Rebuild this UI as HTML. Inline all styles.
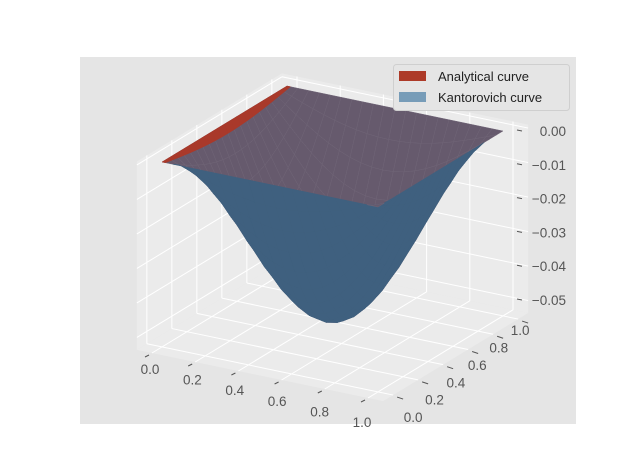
<!DOCTYPE html>
<html><head><meta charset="utf-8"><style>
html,body{margin:0;padding:0;background:#fff;}
svg{display:block;font-family:"Liberation Sans","DejaVu Sans",sans-serif;}
</style></head><body>
<svg id="chart" width="640" height="476" viewBox="0 0 640 476">
  <rect x="80" y="57" width="496" height="367" fill="#e5e5e5"/>
  <g id="panes"></g>
  <g id="surf"></g>
  <g id="ticks"></g>
  <g>
    <rect x="393.5" y="64.5" width="176" height="46" rx="3" fill="#e5e5e5" stroke="#cfcfcf"/>
    <rect x="399" y="71" width="27" height="10" fill="#ad3a28"/>
    <text x="438" y="81" font-size="13" fill="#222">Analytical curve</text>
    <rect x="399" y="92" width="27" height="10" fill="#779cb8"/>
    <text x="438" y="102" font-size="13" fill="#222">Kantorovich curve</text>
  </g>
</svg>
<script>
// ---- data ----
const gridPos = [0,0.05,0.1,0.15,0.2,0.25,0.3,0.35,0.4,0.45,0.5,0.55,0.6,0.65,0.7,0.75,0.8,0.85,0.9,0.95,1];
const profileY = [0,0.156,0.309,0.454,0.588,0.707,0.809,0.891,0.951,0.988,1,0.988,0.951,0.891,0.809,0.707,0.588,0.454,0.309,0.156,0];
const kantProfileX = [0,0.156,0.309,0.454,0.588,0.707,0.809,0.891,0.951,0.988,1,0.988,0.951,0.891,0.809,0.707,0.588,0.454,0.309,0.156,0];
const analStripX = [0,0.016];
const analStripProfile = [0,0.05];
const zMin = -0.0505;
const xTicks = [0,0.2,0.4,0.6,0.8,1.0];
const yTicks = [0,0.2,0.4,0.6,0.8,1.0];
const zTicks = [0,-0.01,-0.02,-0.03,-0.04,-0.05];
const xLim = [-0.07,1.07], yLim = [-0.08,1.08], zLim = [-0.0536,0.001];

const NS="http://www.w3.org/2000/svg";
function P(x,y,z){return [162+216*x+125*y, 162+45*x-76*y-3450*z];}
function depth(x,y,z){return -(0.5*x-0.866*y)*0.866 - z*15.6*0.5;}
function mk(tag,attrs,parent){const e=document.createElementNS(NS,tag);for(const k in attrs)e.setAttribute(k,attrs[k]);parent.appendChild(e);return e;}
function poly(pts){return pts.map(p=>p[0].toFixed(2)+","+p[1].toFixed(2)).join(" ");}

// panes
const panes=document.getElementById('panes');
const [x0,x1]=xLim,[y0,y1]=yLim,[z0,z1]=zLim;
let e;
e=mk('polygon',{points:poly([P(x0,y0,z0),P(x0,y1,z0),P(x0,y1,z1),P(x0,y0,z1)]),fill:'#ebebeb'},panes);


e=mk('polygon',{points:poly([P(x0,y1,z0),P(x1,y1,z0),P(x1,y1,z1),P(x0,y1,z1)]),fill:'#ebebeb'},panes);


e=mk('polygon',{points:poly([P(x0,y0,z0),P(x1,y0,z0),P(x1,y1,z0),P(x0,y1,z0)]),fill:'#ebebeb'},panes);


function gl(a,b){const l=mk('line',{x1:a[0],y1:a[1],x2:b[0],y2:b[1],stroke:'#fff','stroke-width':1},panes);

}
xTicks.forEach(t=>{gl(P(t,y0,z0),P(t,y1,z0));gl(P(t,y1,z0),P(t,y1,z1));});
yTicks.forEach(t=>{gl(P(x1,t,z0),P(x0,t,z0));gl(P(x0,t,z0),P(x0,t,z1));});
zTicks.forEach(t=>{gl(P(x0,y0,t),P(x0,y1,t));gl(P(x0,y1,t),P(x1,y1,t));});

// surfaces
const surf=document.getElementById('surf');
function buildFaces(xs,profX,name,topCol,botCol,topStroke){
  const faces=[];
  for(let i=0;i<xs.length-1;i++)for(let j=0;j<gridPos.length-1;j++){
    const c=[[i,j],[i+1,j],[i+1,j+1],[i,j+1]].map(([a,b])=>[xs[a],gridPos[b],zMin*profX[a]*profileY[b]]);
    const pts=c.map(q=>P(q[0],q[1],q[2]));
    let area=0;for(let k=0;k<4;k++){const p=pts[k],q=pts[(k+1)%4];area+=p[0]*q[1]-q[0]*p[1];}
    const d=c.reduce((s,q)=>s+depth(q[0],q[1],q[2]),0)/4;
    const top=area<0;
    faces.push({pts,d,col:top?topCol:botCol,st:top?topStroke:botCol,name});
  }
  faces.sort((a,b)=>b.d-a.d);
  return faces;
}
function drawFaces(faces){
  faces.forEach(f=>{
    const p=mk('polygon',{points:poly(f.pts),fill:f.col,stroke:f.st,'stroke-width':0.5,'stroke-linejoin':'round'},surf);
    
    
  });
}
drawFaces(buildFaces(gridPos,kantProfileX,'kantorovich-face','#665a6d','#3f607f','#6f6476'));
drawFaces(buildFaces(analStripX,analStripProfile,'analytical-face','#a9392a','#a9392a','#a9392a'));

// ticks and labels
const tg=document.getElementById('ticks');
function txt(x,y,s,anchor,name){const t=mk('text',{x:x,y:y,'font-size':13.5,fill:'#555','text-anchor':anchor},tg);t.textContent=s;

}
function tick(a,b){const l=mk('line',{x1:a[0],y1:a[1],x2:b[0],y2:b[1],stroke:'#555','stroke-width':1},tg);

}
xTicks.forEach(t=>{const p=P(t,y0,z0);tick([p[0]-3,p[1]+2],[p[0]-7,p[1]+4]);
  txt(p[0]-2-4*t,p[1]+21+8*t,t.toFixed(1),'middle','x-tick-label');});
yTicks.forEach(t=>{const p=P(x1,t,z0);tick([p[0]+4,p[1]+2],[p[0]+10,p[1]+4]);
  txt(p[0]+20-18*t,p[1]+27-11*t,t.toFixed(1),'middle','y-tick-label');});
zTicks.forEach(t=>{const y=131+(-t)*3380;tick([517,y-1],[522,y]);
  const s=t===0?'0.00':'\u22120.0'+Math.round(-t*100);
  txt(566,y+5,s,'end','z-tick-label');});
</script>
</body></html>
